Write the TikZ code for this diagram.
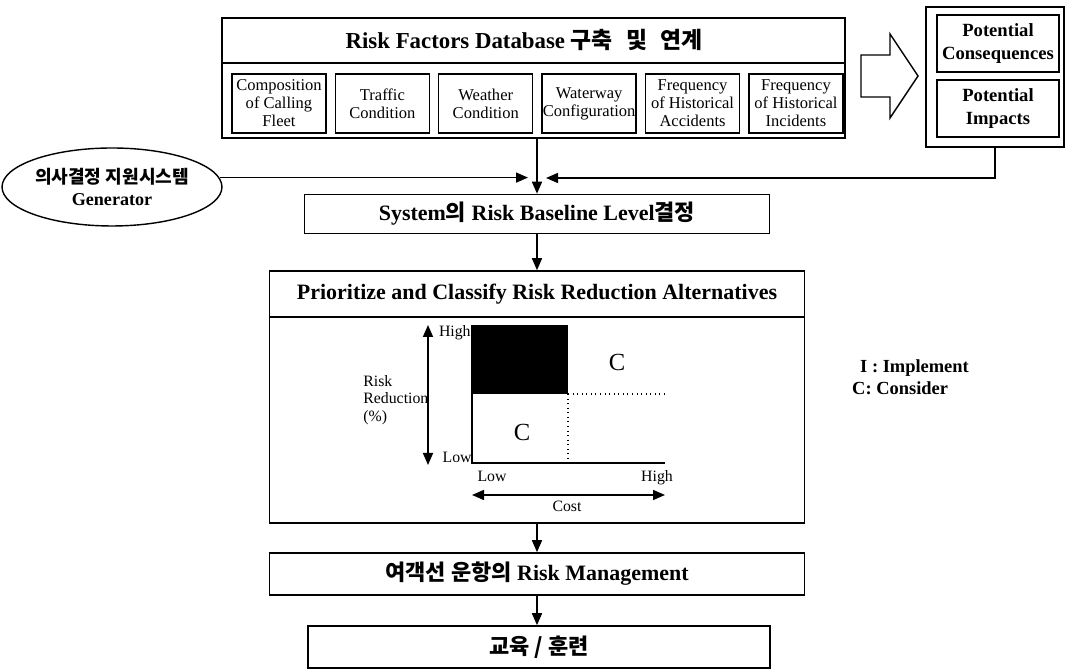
\documentclass[tikz,border=0pt]{standalone}
\usepackage{fontspec}
\setmainfont{Liberation Serif}
\newfontfamily\kr{Noto Sans CJK KR}
\usetikzlibrary{arrows.meta}
\usetikzlibrary{positioning}
\usetikzlibrary{shapes.geometric}

\begin{document}
\begin{tikzpicture}[x=0.02cm, y=-0.02cm,
    box/.style={draw, line width=0.9pt, inner sep=0pt},
    factor/.style={draw, line width=0.8pt, minimum width=1.88cm, minimum height=1.18cm,
        inner sep=0pt, align=center, font=\fontsize{9.4}{10.2}\selectfont},
    pbox/.style={draw, line width=0.8pt, minimum width=2.44cm, minimum height=1.14cm,
        inner sep=0pt, align=center, font=\bfseries\fontsize{10.6}{13}\selectfont},
    arr/.style={-{Triangle[length=0.24cm, width=0.2cm]}, line width=0.9pt},
    dbl/.style={{Triangle[length=0.24cm, width=0.2cm]}-{Triangle[length=0.24cm, width=0.2cm]}, line width=0.9pt},
    small/.style={font=\fontsize{9}{10}\selectfont, inner sep=0pt}]
    \useasboundingbox (0,0) rectangle (1066,671);

    \node[box, minimum width=12.46cm, minimum height=2.4cm] (db) at (533.5,78) {};
    \coordinate (dv) at (0,63);
    \draw[line width=0.9pt] (db.west |- dv) -- (db.east |- dv);
    \node[font=\bfseries\fontsize{13}{15}\selectfont] (dbt) at (524,40)
        {Risk Factors Database {\kr 구축\hspace{0.35em} 및\hspace{0.35em} 연계}};
    \node[factor] (f1) at (279,103.5) {Composition\\of Calling\\Fleet};
    \node[factor, right=0.16cm of f1] (f2) {Traffic\\Condition};
    \node[factor, right=0.16cm of f2] (f3) {Weather\\Condition};
    \node[factor, right=0.16cm of f3] (f4) {Waterway\\Configuration};
    \node[factor, right=0.16cm of f4] (f5) {Frequency\\of Historical\\Accidents};
    \node[factor, right=0.16cm of f5] (f6) {Frequency\\of Historical\\Incidents};

    \draw[line width=0.8pt] (861,55) -- (890,55) -- (890,34) -- (918,76) -- (890,118) -- (890,97) -- (861,97) -- cycle;

    \node[box, minimum width=2.76cm, minimum height=2.8cm] (pot) at (995,77) {};
    \node[pbox] (pc) at (998,43.5) {Potential\\Consequences};
    \node[pbox] (pi) at (998,108.5) {Potential\\Impacts};

    \node[draw, ellipse, line width=0.8pt, minimum width=4.4cm, minimum height=1.56cm, inner sep=0pt,
        align=center, font=\bfseries\fontsize{10.3}{13}\selectfont] (gen) at (112,187) {{\kr 의사결정 지원시스템}\\Generator};

    \node[box, minimum width=9.3cm, minimum height=0.78cm, font=\bfseries\fontsize{12.5}{14}\selectfont] (sys) at (537,214)
        {System{\kr 의} Risk Baseline Level{\kr 결정}};
    \coordinate (jl) at (528,178);
    \coordinate (jr) at (546,178);
    \draw[arr] (db.south -| sys.north) -- (sys.north);
    \draw[arr] (gen.5) -- (gen.5 -| jl);
    \draw[arr] (pot.south) |- (jr);

    \node[box, minimum width=10.7cm, minimum height=5.04cm] (prio) at (537,397) {};
    \coordinate (pv) at (0,317);
    \draw[line width=0.9pt] (prio.west |- pv) -- (prio.east |- pv);
    \node[font=\bfseries\fontsize{12.5}{14}\selectfont] (priot) at (537,294) {Prioritize and Classify Risk Reduction Alternatives};
    \draw[arr] (sys.south) -- (prio.north);

    \fill (472,325) rectangle (568,394);
    \draw[line width=0.8pt] (472,325) -- (472,463) -- (665,463);
    \draw[dotted, line width=0.6pt] (568,394) -- (665,394) (568,394) -- (568,463);
    \draw[dbl] (428,325) -- (428,465);
    \draw[dbl] (472,495) -- (665,495);
    \node[small, anchor=east] (yhi) at (471,333) {High};
    \node[small, anchor=east] (ylo) at (472,457) {Low};
    \node[small, anchor=west, align=left] (yl) at (363,400) {Risk\\Reduction\\(\%)};
    \node[small, anchor=base] (xlo) at (492,482) {Low};
    \node[small, anchor=base] (xhi) at (657,482) {High};
    \node[small, anchor=base] (xl) at (567,512) {Cost};
    \node[font=\fontsize{14}{16}\selectfont] (c1) at (617,362) {C};
    \node[font=\fontsize{14}{16}\selectfont] (c2) at (522,432) {C};

    \node[anchor=west, font=\bfseries\fontsize{10.5}{12}\selectfont] (li) at (854,368) {I : Implement};
    \node[anchor=west, font=\bfseries\fontsize{10.5}{12}\selectfont] (lc) at (846,388) {C: Consider};

    \node[box, minimum width=10.7cm, minimum height=0.84cm, font=\bfseries\fontsize{12.5}{14}\selectfont] (rm) at (537,574)
        {{\kr 여객선 운항의} Risk Management};
    \node[box, minimum width=9.24cm, minimum height=0.84cm, font=\bfseries\fontsize{12.5}{14}\selectfont] (edu) at (539,647)
        {{\kr 교육 / 훈련}};
    \draw[arr] (prio.south) -- (rm.north);
    \draw[arr] (rm.south) -- (rm.south |- edu.north);
\end{tikzpicture}
\end{document}
